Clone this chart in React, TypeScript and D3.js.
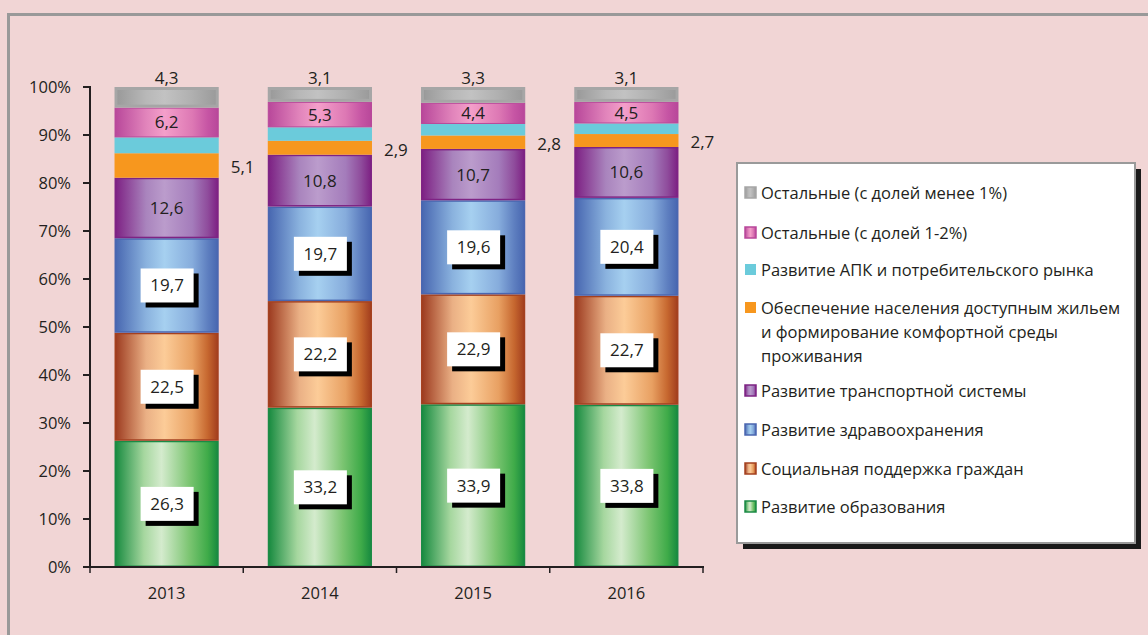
import React from "react";
import * as d3 from "d3";

const years = ["2013", "2014", "2015", "2016"];
const seriesNames = [
  "Развитие образования",
  "Социальная поддержка граждан",
  "Развитие здравоохранения",
  "Развитие транспортной системы",
  "Обеспечение населения доступным жильем и формирование комфортной среды проживания",
  "Развитие АПК и потребительского рынка",
  "Остальные (с долей 1-2%)",
  "Остальные (с долей менее 1%)",
];
const education = [26.3, 33.2, 33.9, 33.8];
const social = [22.5, 22.2, 22.9, 22.7];
const health = [19.7, 19.7, 19.6, 20.4];
const transport = [12.6, 10.8, 10.7, 10.6];
const housing = [5.1, 2.9, 2.8, 2.7];
const apk = [3.3, 2.8, 2.4, 2.2];
const other12 = [6.2, 5.3, 4.4, 4.5];
const otherLess1 = [4.3, 3.1, 3.3, 3.1];
const yTicks = [0, 10, 20, 30, 40, 50, 60, 70, 80, 90, 100];

const seriesValues = [education, social, health, transport, housing, apk, other12, otherLess1];

type Style = { stops: [number, string][]; stroke: string; sw: number; label: "box" | "plain" | "right" | "top" | "none" };
const styles: Style[] = [
  { stops: [[0, "#178a3f"], [0.28, "#a6d79f"], [0.45, "#d4ebcd"], [0.72, "#7cc572"], [0.9, "#3fab49"], [1, "#178a3f"]], stroke: "#1b8a45", sw: 1.5, label: "box" },
  { stops: [[0, "#9c3a1f"], [0.3, "#eab085"], [0.48, "#fccc98"], [0.75, "#e8a062"], [0.9, "#c6672f"], [1, "#a23d1d"]], stroke: "#a4401f", sw: 1.5, label: "box" },
  { stops: [[0, "#4766b0"], [0.3, "#8ab2de"], [0.48, "#a6d0f0"], [0.75, "#86acdc"], [0.9, "#5e7fc0"], [1, "#4766b0"]], stroke: "#4a66b0", sw: 1.5, label: "box" },
  { stops: [[0, "#7d2083"], [0.3, "#a984bd"], [0.48, "#bb9ccc"], [0.75, "#a47cbb"], [0.9, "#8f4c9c"], [1, "#7d2083"]], stroke: "#7e2384", sw: 1.5, label: "plain" },
  { stops: [[0, "#f7971e"], [1, "#f7971e"]], stroke: "#f7971e", sw: 0, label: "right" },
  { stops: [[0, "#6bcbdb"], [1, "#6bcbdb"]], stroke: "#6bcbdb", sw: 0, label: "none" },
  { stops: [[0, "#b8479a"], [0.3, "#e184bb"], [0.48, "#f49fca"], [0.75, "#dd78b4"], [0.9, "#c655a4"], [1, "#b8479a"]], stroke: "#b8479a", sw: 1, label: "plain" },
  { stops: [[0, "#999999"], [0.3, "#b8b8b8"], [0.48, "#c2c2c2"], [0.75, "#b0b0b0"], [1, "#9a9a9a"]], stroke: "#a6a6a6", sw: 3, label: "top" },
];

const legendOrder = [7, 6, 5, 4, 3, 2, 1, 0];
const legendLines: string[][] = [
  ["Остальные (с долей менее 1%)"],
  ["Остальные (с долей 1-2%)"],
  ["Развитие АПК и потребительского рынка"],
  ["Обеспечение населения доступным жильем", "и формирование комфортной среды", "проживания"],
  ["Развитие транспортной системы"],
  ["Развитие здравоохранения"],
  ["Социальная поддержка граждан"],
  ["Развитие образования"],
];
const legendRowY = [193, 233, 270, 308, 391, 430, 469, 507];

const fmt = (v: number) => v.toFixed(1).replace(".", ",");
const FONT = "'Open Sans', 'Noto Sans', sans-serif";

export default function App() {
  const x = d3.scaleBand<string>().domain(years).range([90, 703]).paddingInner(0.32).paddingOuter(0.16);
  const y = d3.scaleLinear().domain([0, 100]).range([567, 87]);
  const stackData = years.map((yr, i) => {
    const row: any = { year: yr };
    seriesValues.forEach((s, k) => (row["s" + k] = s[i]));
    return row;
  });
  const stack = d3.stack<any>().keys(seriesValues.map((_, k) => "s" + k));
  const layers = stack(stackData);
  const bw = x.bandwidth();
  const tickXs = [...years.map((yr) => x(yr)! - (x.step() - bw) / 2), 703];

  return (
    <svg width={1148} height={635} style={{ position: "absolute", left: 0, top: 0 }} fontFamily={FONT}>
      <defs>
        {styles.map((s, k) => (
          <linearGradient id={"g" + k} key={k} x1="0" x2="1" y1="0" y2="0">
            {s.stops.map(([o, c], j) => (
              <stop key={j} offset={o} stopColor={c} />
            ))}
          </linearGradient>
        ))}
      </defs>
      <rect x={0} y={0} width={1148} height={635} fill="#f1d5d5" />
      <rect x={8.5} y={14.5} width={1160} height={640} fill="none" stroke="#999" strokeWidth={3} />

      {/* bars */}
      {layers.map((layer, k) =>
        layer.map((d, i) => {
          const s = styles[k];
          const x0 = x(years[i])!;
          const y0 = y(d[1]);
          const h = y(d[0]) - y(d[1]);
          const inset = s.sw / 2;
          return (
            <rect
              key={k + "-" + i}
              x={x0 + inset}
              y={y0 + inset}
              width={bw - 2 * inset}
              height={Math.max(0, h - 2 * inset)}
              fill={`url(#g${k})`}
              stroke={s.sw > 0 ? s.stroke : "none"}
              strokeWidth={s.sw}
            />
          );
        })
      )}

      {/* axes */}
      <g stroke="#231f20" strokeWidth={2}>
        <line x1={90} x2={90} y1={86} y2={568} />
        {yTicks.map((t) => (
          <line key={t} x1={83} x2={90} y1={y(t)} y2={y(t)} />
        ))}
        <line x1={89} x2={704} y1={567} y2={567} />
        {tickXs.map((tx, i) => (
          <line key={i} x1={tx} x2={tx} y1={567} y2={573} strokeWidth={1.5} />
        ))}
      </g>
      {yTicks.map((t) => (
        <text key={t} x={71} y={y(t)} dy="0.35em" textAnchor="end" fontSize={16.5} fill="#231f20">
          {t + "%"}
        </text>
      ))}
      {years.map((yr) => (
        <text key={yr} x={x(yr)! + bw / 2} y={593} dy="0.35em" textAnchor="middle" fontSize={16.5} fill="#231f20">
          {yr}
        </text>
      ))}

      {/* labels */}
      {layers.map((layer, k) =>
        layer.map((d, i) => {
          const s = styles[k];
          const cx = x(years[i])! + bw / 2;
          const cy = (y(d[0]) + y(d[1])) / 2;
          const txt = fmt(seriesValues[k][i]);
          if (s.label === "none") return null;
          if (s.label === "top")
            return (
              <text key={"l" + k + i} x={cx} y={y(d[1]) - 3} textAnchor="middle" fontSize={17} fill="#231f20">
                {txt}
              </text>
            );
          if (s.label === "right")
            return (
              <text key={"l" + k + i} x={x(years[i])! + bw + 12} y={cy + 2} dy="0.35em" fontSize={17} fill="#231f20">
                {txt}
              </text>
            );
          if (s.label === "plain")
            return (
              <text key={"l" + k + i} x={cx} y={cy} dy="0.35em" textAnchor="middle" fontSize={17} fill="#231f20">
                {txt}
              </text>
            );
          return (
            <g key={"l" + k + i}>
              <rect x={cx - 26 + 5} y={cy - 17 + 5} width={53} height={34} fill="#000" />
              <rect x={cx - 26} y={cy - 17} width={53} height={34} fill="#fff" />
              <text x={cx + 0.5} y={cy} dy="0.35em" textAnchor="middle" fontSize={17} fill="#231f20">
                {txt}
              </text>
            </g>
          );
        })
      )}

      {/* legend */}
      <rect x={743} y={169} width={398} height={380} fill="#1a1a1a" />
      <rect x={737} y={163} width={398} height={380} fill="#fff" stroke="#9a9a9a" strokeWidth={2} />
      {legendOrder.map((k, r) => {
        const s = styles[k];
        const ry = legendRowY[r];
        return (
          <g key={"leg" + k}>
            <rect
              x={745}
              y={ry - 6}
              width={11}
              height={11}
              fill={`url(#g${k})`}
              stroke={s.sw > 0 ? s.stroke : "none"}
              strokeWidth={s.sw > 0 ? 1.5 : 0}
            />
            {legendLines[r].map((ln, j) => (
              <text key={j} x={761} y={ry + j * 24} dy="0.35em" fontSize={16.5} fill="#231f20">
                {ln}
              </text>
            ))}
          </g>
        );
      })}
    </svg>
  );
}
